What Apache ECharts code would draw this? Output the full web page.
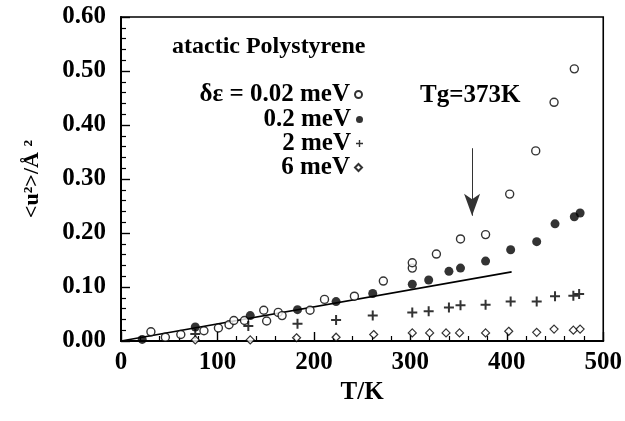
<!DOCTYPE html>
<html><head><meta charset="utf-8">
<script src="https://cdn.jsdelivr.net/npm/echarts@6/dist/echarts.min.js"></script>
<style>html,body{margin:0;padding:0;background:#fff}#c{width:625px;height:421px}</style>
</head><body><div id="c"></div>
<script>
// ---- data ----
const seriesNames = ['δε = 0.02 meV', '0.2 meV', '2 meV', '6 meV'];
const xTickLabels = ['0', '100', '200', '300', '400', '500'];
const yTickLabels = ['0.00', '0.10', '0.20', '0.30', '0.40', '0.50', '0.60'];
const s002 = [[31,0.017],[46,0.007],[62,0.012],[86,0.019],[101,0.024],[112,0.030],[117,0.038],[128,0.038],
  [148,0.057],[151,0.037],[163,0.053],[167,0.047],[196,0.057],[211,0.077],[242,0.083],[272,0.111],
  [302,0.135],[302,0.145],[327,0.161],[352,0.189],[378,0.197],[403,0.272],[430,0.352],[449,0.442],[470,0.504]];
const s02 = [[22,0.003],[77,0.026],[134,0.047],[183,0.058],[223,0.073],[261,0.088],[302,0.105],[319,0.113],
  [340,0.129],[352,0.135],[378,0.148],[404,0.169],[431,0.184],[450,0.217],[470,0.230],[476,0.237]];
const s2 = [[77,0.013],[132,0.028],[183,0.032],[223,0.039],[261,0.047],[302,0.053],[319,0.055],[340,0.062],
  [352,0.066],[378,0.067],[404,0.073],[431,0.073],[450,0.083],[469,0.084],[475,0.087]];
const s6 = [[77,0.002],[134,0.002],[182,0.006],[223,0.007],[262,0.012],[302,0.015],[320,0.015],[337,0.015],
  [351,0.015],[378,0.015],[402,0.018],[431,0.016],[449,0.022],[469,0.020],[476,0.022]];
const fitLine = [[0,0.0],[405,0.128]];
const arrowFrom = [364,0.357];
const arrowTo = [364,0.232];
const titleText = 'atactic Polystyrene';
const tgText = 'Tg=373K';

// ---- chart ----
const FONT = 'Liberation Serif, Times New Roman, serif';
const plusPath = 'path://M4,0h2v4h4v2h-4v4h-2v-4h-4v-2h4z';
const chart = echarts.init(document.getElementById('c'));
const txt = {fontFamily: FONT, fontWeight: 'bold', fontSize: 25, color: '#000'};
const legendTops = [82, 107, 131, 155];
const styles = [
  {symbol:'circle', symbolSize:8, itemStyle:{color:'#fff', borderColor:'#000', borderWidth:1.4}},
  {symbol:'circle', symbolSize:9, itemStyle:{color:'#000', borderColor:'#000', borderWidth:0}},
  {symbol:plusPath, symbolSize:10, itemStyle:{color:'#000', borderWidth:0}},
  {symbol:'diamond', symbolSize:8, itemStyle:{color:'#fff', borderColor:'#000', borderWidth:1.2}}
];
const dataSets = [s002, s02, s2, s6];
const series = dataSets.map((d, i) => Object.assign({
  type: 'scatter', name: seriesNames[i], data: d, z: 3 + i
}, styles[i]));
series.push({
  type: 'line', name: 'fit', data: fitLine, symbol: 'none', z: 2,
  lineStyle: {color: '#000', width: 1.6},
  markLine: {
    silent: true, symbol: ['none', 'arrow'], symbolSize: [12, 22],
    lineStyle: {color: '#333', width: 1, type: 'solid'},
    label: {show: false},
    data: [[{coord: arrowFrom}, {coord: arrowTo}]]
  }
});
chart.setOption({
  animation: false,
  backgroundColor: '#fff',
  grid: {left: 121, right: 19, top: 17, bottom: 80, show: true, borderColor: '#000', borderWidth: 1.6, backgroundColor: 'transparent'},
  xAxis: {
    type: 'value', min: 0, max: 500, interval: 100,
    name: 'T/K', nameLocation: 'middle', nameGap: 36, nameTextStyle: txt,
    axisLine: {lineStyle: {color: '#000', width: 2}},
    axisTick: {inside: true, length: 9, lineStyle: {color: '#000', width: 1.4}},
    minorTick: {show: true, splitNumber: 5, length: 5, lineStyle: {color: '#000', width: 1.2}},
    axisLabel: Object.assign({margin: 9, formatter: (v) => xTickLabels[Math.round(v / 100)]}, txt),
    splitLine: {show: false}
  },
  yAxis: {
    type: 'value', min: 0, max: 0.6, interval: 0.1,
    name: '<u²>/Å ²', nameLocation: 'middle', nameGap: 78, nameRotate: 90,
    nameTextStyle: Object.assign({}, txt, {fontSize: 22}),
    axisLine: {lineStyle: {color: '#000', width: 2}},
    axisTick: {inside: true, length: 9, lineStyle: {color: '#000', width: 1.4}},
    minorTick: {show: true, splitNumber: 5, length: 5, lineStyle: {color: '#000', width: 1.2}},
    axisLabel: Object.assign({margin: 15, formatter: (v) => yTickLabels[Math.round(v * 10)]}, txt),
    splitLine: {show: false}
  },
  legend: seriesNames.map((n, i) => ({
    data: [n], orient: 'horizontal', align: 'right', right: 262, top: legendTops[i],
    itemWidth: 7, itemHeight: 7, selectedMode: false, padding: 0,
    textStyle: Object.assign({}, txt, {fontSize: 25})
  })),
  graphic: [
    {type: 'text', left: 172, top: 35, style: {text: titleText, font: 'bold 24px ' + FONT, fill: '#000'}},
    {type: 'text', left: 420, top: 83, style: {text: tgText, font: 'bold 25px ' + FONT, fill: '#000'}}
  ],
  series: series
});
</script></body></html>
